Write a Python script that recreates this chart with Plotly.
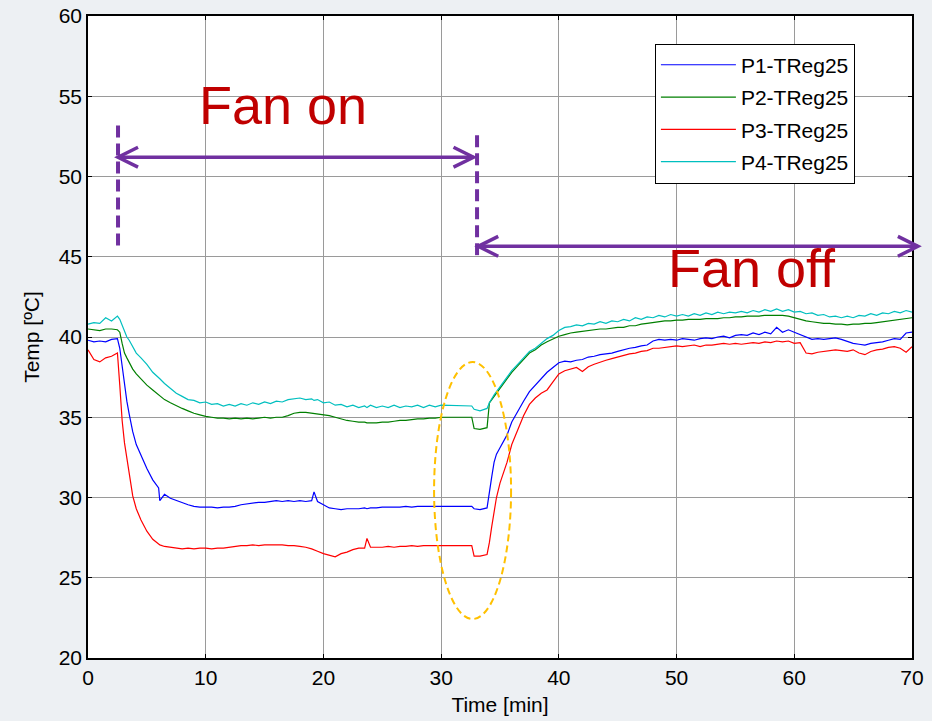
import plotly.graph_objects as go

# ---------------- data ----------------
time_min = [
    0, 0.5, 1, 1.5, 2, 2.5, 2.7, 2.9, 3.1, 3.3, 3.5, 3.8, 4.1, 4.5,
    5, 5.5, 6, 6.1, 6.5, 7, 7.5, 8, 8.5, 9, 9.5, 10,
    10.5, 11, 11.5, 12, 12.5, 13, 13.5, 14, 14.5, 15,
    15.5, 16, 16.5, 17, 17.5, 18, 18.5, 19, 19.2, 19.5, 20,
    20.5, 21, 21.5, 22, 22.5, 23, 23.5, 23.7, 24, 24.5, 25,
    25.5, 26, 26.5, 27, 27.5, 28, 28.5, 29, 29.5, 30,
    32.6, 32.8, 33.3, 33.9, 34.1, 34.3, 34.5, 34.7, 35.0, 35.3, 35.6,
    36, 36.5, 37, 37.5, 38, 38.5, 39, 39.5, 40,
    40.5, 41, 41.5, 42, 42.5, 43, 43.5, 44, 44.5, 45,
    45.5, 46, 46.5, 47, 47.5, 48, 48.5, 49, 49.5, 50,
    50.5, 51, 51.5, 52, 52.5, 53, 53.5, 54, 54.5, 55,
    55.5, 56, 56.5, 57, 57.5, 58, 58.5, 59, 59.5, 60,
    60.5, 61, 61.5, 62, 62.5, 63, 63.5, 64, 64.5, 65,
    65.5, 66, 66.5, 67, 67.5, 68, 68.5, 69, 69.5, 70,
]

p1_treg25 = [
    39.8, 39.7, 39.75, 39.7, 39.85, 39.9, 39.3, 38.1, 37.0, 36.0, 35.2, 34.1, 33.3, 32.6,
    31.8, 31.1, 30.6, 29.8, 30.2, 29.95, 29.8, 29.65, 29.55, 29.45, 29.4, 29.4,
    29.4, 29.35, 29.4, 29.4, 29.45, 29.55, 29.6, 29.65, 29.7, 29.7,
    29.75, 29.8, 29.75, 29.8, 29.75, 29.8, 29.75, 29.8, 30.35, 29.75, 29.55,
    29.35, 29.3, 29.25, 29.3, 29.3, 29.3, 29.35, 29.3, 29.35, 29.35, 29.4,
    29.4, 29.4, 29.4, 29.45, 29.4, 29.45, 29.45, 29.45, 29.45, 29.45,
    29.45, 29.3, 29.25, 29.35, 30.2, 31.3, 32.2, 32.7, 33.1, 33.5, 33.9,
    34.7, 35.4, 36.0, 36.6, 37.0, 37.4, 37.8, 38.1, 38.4,
    38.5, 38.45, 38.55, 38.6, 38.75, 38.8, 38.9, 38.95, 39.0, 39.1,
    39.2, 39.3, 39.35, 39.45, 39.5, 39.75, 39.85, 39.8, 39.85, 39.8,
    39.9, 39.85, 39.8, 39.9, 39.95, 39.9, 40.0, 40.05, 39.95, 40.1,
    40.15, 40.1, 40.25, 40.15, 40.3, 40.2, 40.6, 40.3, 40.45, 40.3,
    40.15, 40.0, 39.85, 39.9, 39.85, 39.9, 39.95, 39.85, 39.7, 39.6,
    39.55, 39.5, 39.6, 39.65, 39.7, 39.8, 39.9, 39.85, 40.25, 40.3,
]

p2_treg25 = [
    40.5, 40.45, 40.4, 40.5, 40.5, 40.45, 40.3, 39.6, 39.0, 38.7, 38.4, 38.0, 37.7, 37.4,
    37.0, 36.7, 36.4, 36.3, 36.1, 35.9, 35.7, 35.55, 35.4, 35.25, 35.15, 35.05,
    35.0, 34.95, 34.95, 34.9, 34.95, 34.9, 34.95, 34.9, 34.95, 35.0,
    34.95, 35.0, 35.0, 35.1, 35.25, 35.3, 35.3, 35.25, 35.25, 35.2, 35.15,
    35.1, 35.0, 34.9, 34.8, 34.75, 34.7, 34.7, 34.65, 34.65, 34.65, 34.7,
    34.7, 34.75, 34.8, 34.8, 34.85, 34.9, 34.9, 34.95, 34.95, 35.0,
    35.0, 34.3, 34.25, 34.35, 35.9, 36.1, 36.3, 36.5, 36.8, 37.1, 37.4,
    37.8, 38.2, 38.6, 39.0, 39.2, 39.5, 39.7, 39.9, 40.05,
    40.15, 40.25, 40.3, 40.35, 40.4, 40.45, 40.5, 40.5, 40.55, 40.6,
    40.6, 40.7, 40.7, 40.8, 40.85, 40.9, 40.95, 41.0, 41.0, 41.05,
    41.05, 41.1, 41.1, 41.1, 41.15, 41.15, 41.15, 41.2, 41.2, 41.25,
    41.25, 41.3, 41.3, 41.3, 41.35, 41.35, 41.35, 41.35, 41.3, 41.2,
    41.1, 41.0, 40.95, 40.9, 40.85, 40.85, 40.8, 40.8, 40.75, 40.8,
    40.8, 40.85, 40.85, 40.9, 40.95, 41.0, 41.05, 41.1, 41.15, 41.2,
]

p3_treg25 = [
    39.2, 38.6, 38.45, 38.7, 38.8, 39.0, 37.0, 34.8, 33.4, 32.4, 31.5, 30.1, 29.3, 28.6,
    27.9, 27.4, 27.1, 27.05, 26.95, 26.9, 26.85, 26.8, 26.85, 26.8, 26.85, 26.85,
    26.8, 26.85, 26.85, 26.9, 26.95, 27.0, 27.0, 27.05, 27.0, 27.05,
    27.05, 27.05, 27.05, 27.0, 27.0, 26.95, 26.9, 26.8, 26.75, 26.65, 26.5,
    26.4, 26.3, 26.5, 26.6, 26.75, 26.85, 26.85, 27.45, 26.9, 26.9, 26.9,
    26.95, 26.9, 26.95, 26.95, 27.0, 26.95, 27.0, 27.0, 27.0, 27.0,
    27.0, 26.35, 26.35, 26.45, 27.2, 28.2, 29.2, 30.0, 30.9, 31.5, 32.2,
    33.3, 34.2, 35.1, 35.8, 36.2, 36.5, 36.7, 37.2, 37.7,
    37.9, 38.0, 38.1, 37.85, 38.15, 38.3, 38.45, 38.55, 38.65, 38.75,
    38.85, 38.95, 39.0, 39.1, 39.15, 39.3, 39.3, 39.35, 39.4, 39.45,
    39.4, 39.45, 39.5, 39.4, 39.5, 39.5, 39.55, 39.6, 39.55, 39.6,
    39.55, 39.6, 39.65, 39.6, 39.7, 39.65, 39.75, 39.7, 39.75, 39.6,
    39.65, 39.0, 38.95, 39.05, 39.1, 39.15, 39.2, 39.15, 39.1, 39.2,
    39.0, 38.9, 39.1, 39.2, 39.25, 39.35, 39.4, 39.3, 39.05, 39.4,
]

p4_treg25 = [
    40.8, 40.9, 40.85, 41.2, 41.0, 41.3, 41.1, 40.7, 40.3, 40.0, 39.8, 39.4, 39.0, 38.7,
    38.3, 37.8, 37.5, 37.4, 37.1, 36.8, 36.5, 36.3, 36.1, 36.05, 35.9, 35.95,
    35.8, 35.85, 35.7, 35.8, 35.7, 35.85, 35.75, 35.9, 35.8, 35.95,
    35.85, 36.0, 35.95, 36.1, 36.15, 36.2, 36.1, 36.15, 36.05, 36.1, 35.9,
    35.95, 35.75, 35.8, 35.65, 35.75, 35.6, 35.7, 35.6, 35.75, 35.6, 35.7,
    35.6, 35.75, 35.6, 35.7, 35.65, 35.75, 35.6, 35.75, 35.65, 35.75,
    35.7, 35.5, 35.4, 35.55, 35.9, 36.2, 36.4, 36.6, 36.9, 37.2, 37.5,
    37.9, 38.3, 38.7, 39.1, 39.3, 39.6, 39.9, 40.1, 40.4,
    40.6, 40.65, 40.75, 40.7, 40.85, 40.8, 40.95, 40.85, 41.0, 40.95,
    41.1, 41.0, 41.2, 41.1, 41.25, 41.2, 41.35, 41.25, 41.4, 41.3,
    41.4, 41.3, 41.45, 41.35, 41.5, 41.4, 41.55, 41.45, 41.55, 41.5,
    41.6, 41.5, 41.65, 41.55, 41.7, 41.6, 41.75, 41.6, 41.7, 41.55,
    41.6, 41.45, 41.5, 41.35, 41.4, 41.25, 41.3, 41.2, 41.3, 41.2,
    41.35, 41.3, 41.45, 41.35, 41.5, 41.45, 41.6, 41.5, 41.65, 41.55,
]

series_names = ["P1-TReg25", "P2-TReg25", "P3-TReg25", "P4-TReg25"]
series_values = [p1_treg25, p2_treg25, p3_treg25, p4_treg25]
series_colors = ["#0000ff", "#007f00", "#ff0000", "#00bfbf"]

x_ticks = [0, 10, 20, 30, 40, 50, 60, 70]
y_ticks = [20, 25, 30, 35, 40, 45, 50, 55, 60]

# annotation positions (data units)
x_max = 70
fan_on_time = 2.55
fan_off_time = 33.05
end_time = 70.5
fan_on_arrow_level = 51.2
fan_off_arrow_level = 45.65
fan_on_marker_span = [45.7, 53.2]
fan_off_marker_span = [45.1, 52.6]
ellipse_x = [29.4, 35.94]
ellipse_y = [22.43, 38.44]

# ---------------- figure ----------------
FONT = "Arial, Liberation Sans, sans-serif"
PURPLE = "#7030a0"

fig = go.Figure()
for name, vals, col in zip(series_names, series_values, series_colors):
    fig.add_trace(go.Scatter(
        x=time_min, y=vals, mode="lines", name=name, legendgroup=name,
        line=dict(color=col, width=1.2),
    ))

shapes = []
# dashed vertical markers
for t, span in [(fan_on_time, fan_on_marker_span), (fan_off_time, fan_off_marker_span)]:
    shapes.append(dict(type="line", xref="x", yref="y", x0=t, x1=t, y0=span[0], y1=span[1],
                       line=dict(color=PURPLE, width=4, dash="12px,6px")))

# double arrows drawn as lines with open V heads (x in paper fraction so that
# the right arrow may run past the axes box like in the reference)
head_dx = 1.7
head_dy = 0.62
for x0, x1, yv in [(fan_on_time, fan_off_time - 0.3, fan_on_arrow_level),
                   (fan_off_time + 0.1, end_time, fan_off_arrow_level)]:
    px0, px1, hdx = x0 / x_max, x1 / x_max, head_dx / x_max
    shapes.append(dict(type="line", xref="paper", yref="y", x0=px0, x1=px1, y0=yv, y1=yv,
                       line=dict(color=PURPLE, width=3.5)))
    left = f"M{px0 + hdx},{yv + head_dy} L{px0},{yv} L{px0 + hdx},{yv - head_dy}"
    right = f"M{px1 - hdx},{yv + head_dy} L{px1},{yv} L{px1 - hdx},{yv - head_dy}"
    for p in (left, right):
        shapes.append(dict(type="path", xref="paper", yref="y", path=p,
                           line=dict(color=PURPLE, width=3.5)))

# dashed ellipse
shapes.append(dict(type="circle", xref="x", yref="y",
                   x0=ellipse_x[0], x1=ellipse_x[1], y0=ellipse_y[0], y1=ellipse_y[1],
                   line=dict(color="#ffc000", width=2, dash="7px,4px")))

annotations = [
    dict(x=16.6, y=54.45, xref="x", yref="y", text="Fan on", showarrow=False,
         font=dict(family=FONT, size=54, color="#c00000")),
    dict(x=56.4, y=44.3, xref="x", yref="y", text="Fan off", showarrow=False,
         font=dict(family=FONT, size=54, color="#c00000")),
]

axis_common = dict(
    showline=True, linecolor="black", linewidth=1.5, mirror="ticks",
    ticks="inside", ticklen=4, tickcolor="black", automargin=False,
    showgrid=True, gridcolor="#9a9a9a", gridwidth=1, zeroline=False,
    tickfont=dict(family=FONT, size=21, color="black"),
)

fig.update_layout(
    width=932, height=721,
    margin=dict(l=88, r=20, t=16, b=63),
    paper_bgcolor="#edf0f3", plot_bgcolor="white",
    font=dict(family=FONT, color="black"),
    xaxis=dict(range=[0, x_max], tickvals=x_ticks, title=dict(text="Time [min]", standoff=9,
               font=dict(family=FONT, size=21)), **axis_common),
    yaxis=dict(range=[20, 60], tickvals=y_ticks, title=dict(text="Temp [ºC]", standoff=13,
               font=dict(family=FONT, size=21)), **axis_common),
    legend=dict(x=0.688, y=0.957, xanchor="left", yanchor="top",
                bgcolor="white", bordercolor="black", borderwidth=1,
                font=dict(family=FONT, size=21, color="black"),
                tracegroupgap=2, itemwidth=75),
    shapes=shapes,
    annotations=annotations,
    showlegend=True,
)

fig.write_html("out.html")
